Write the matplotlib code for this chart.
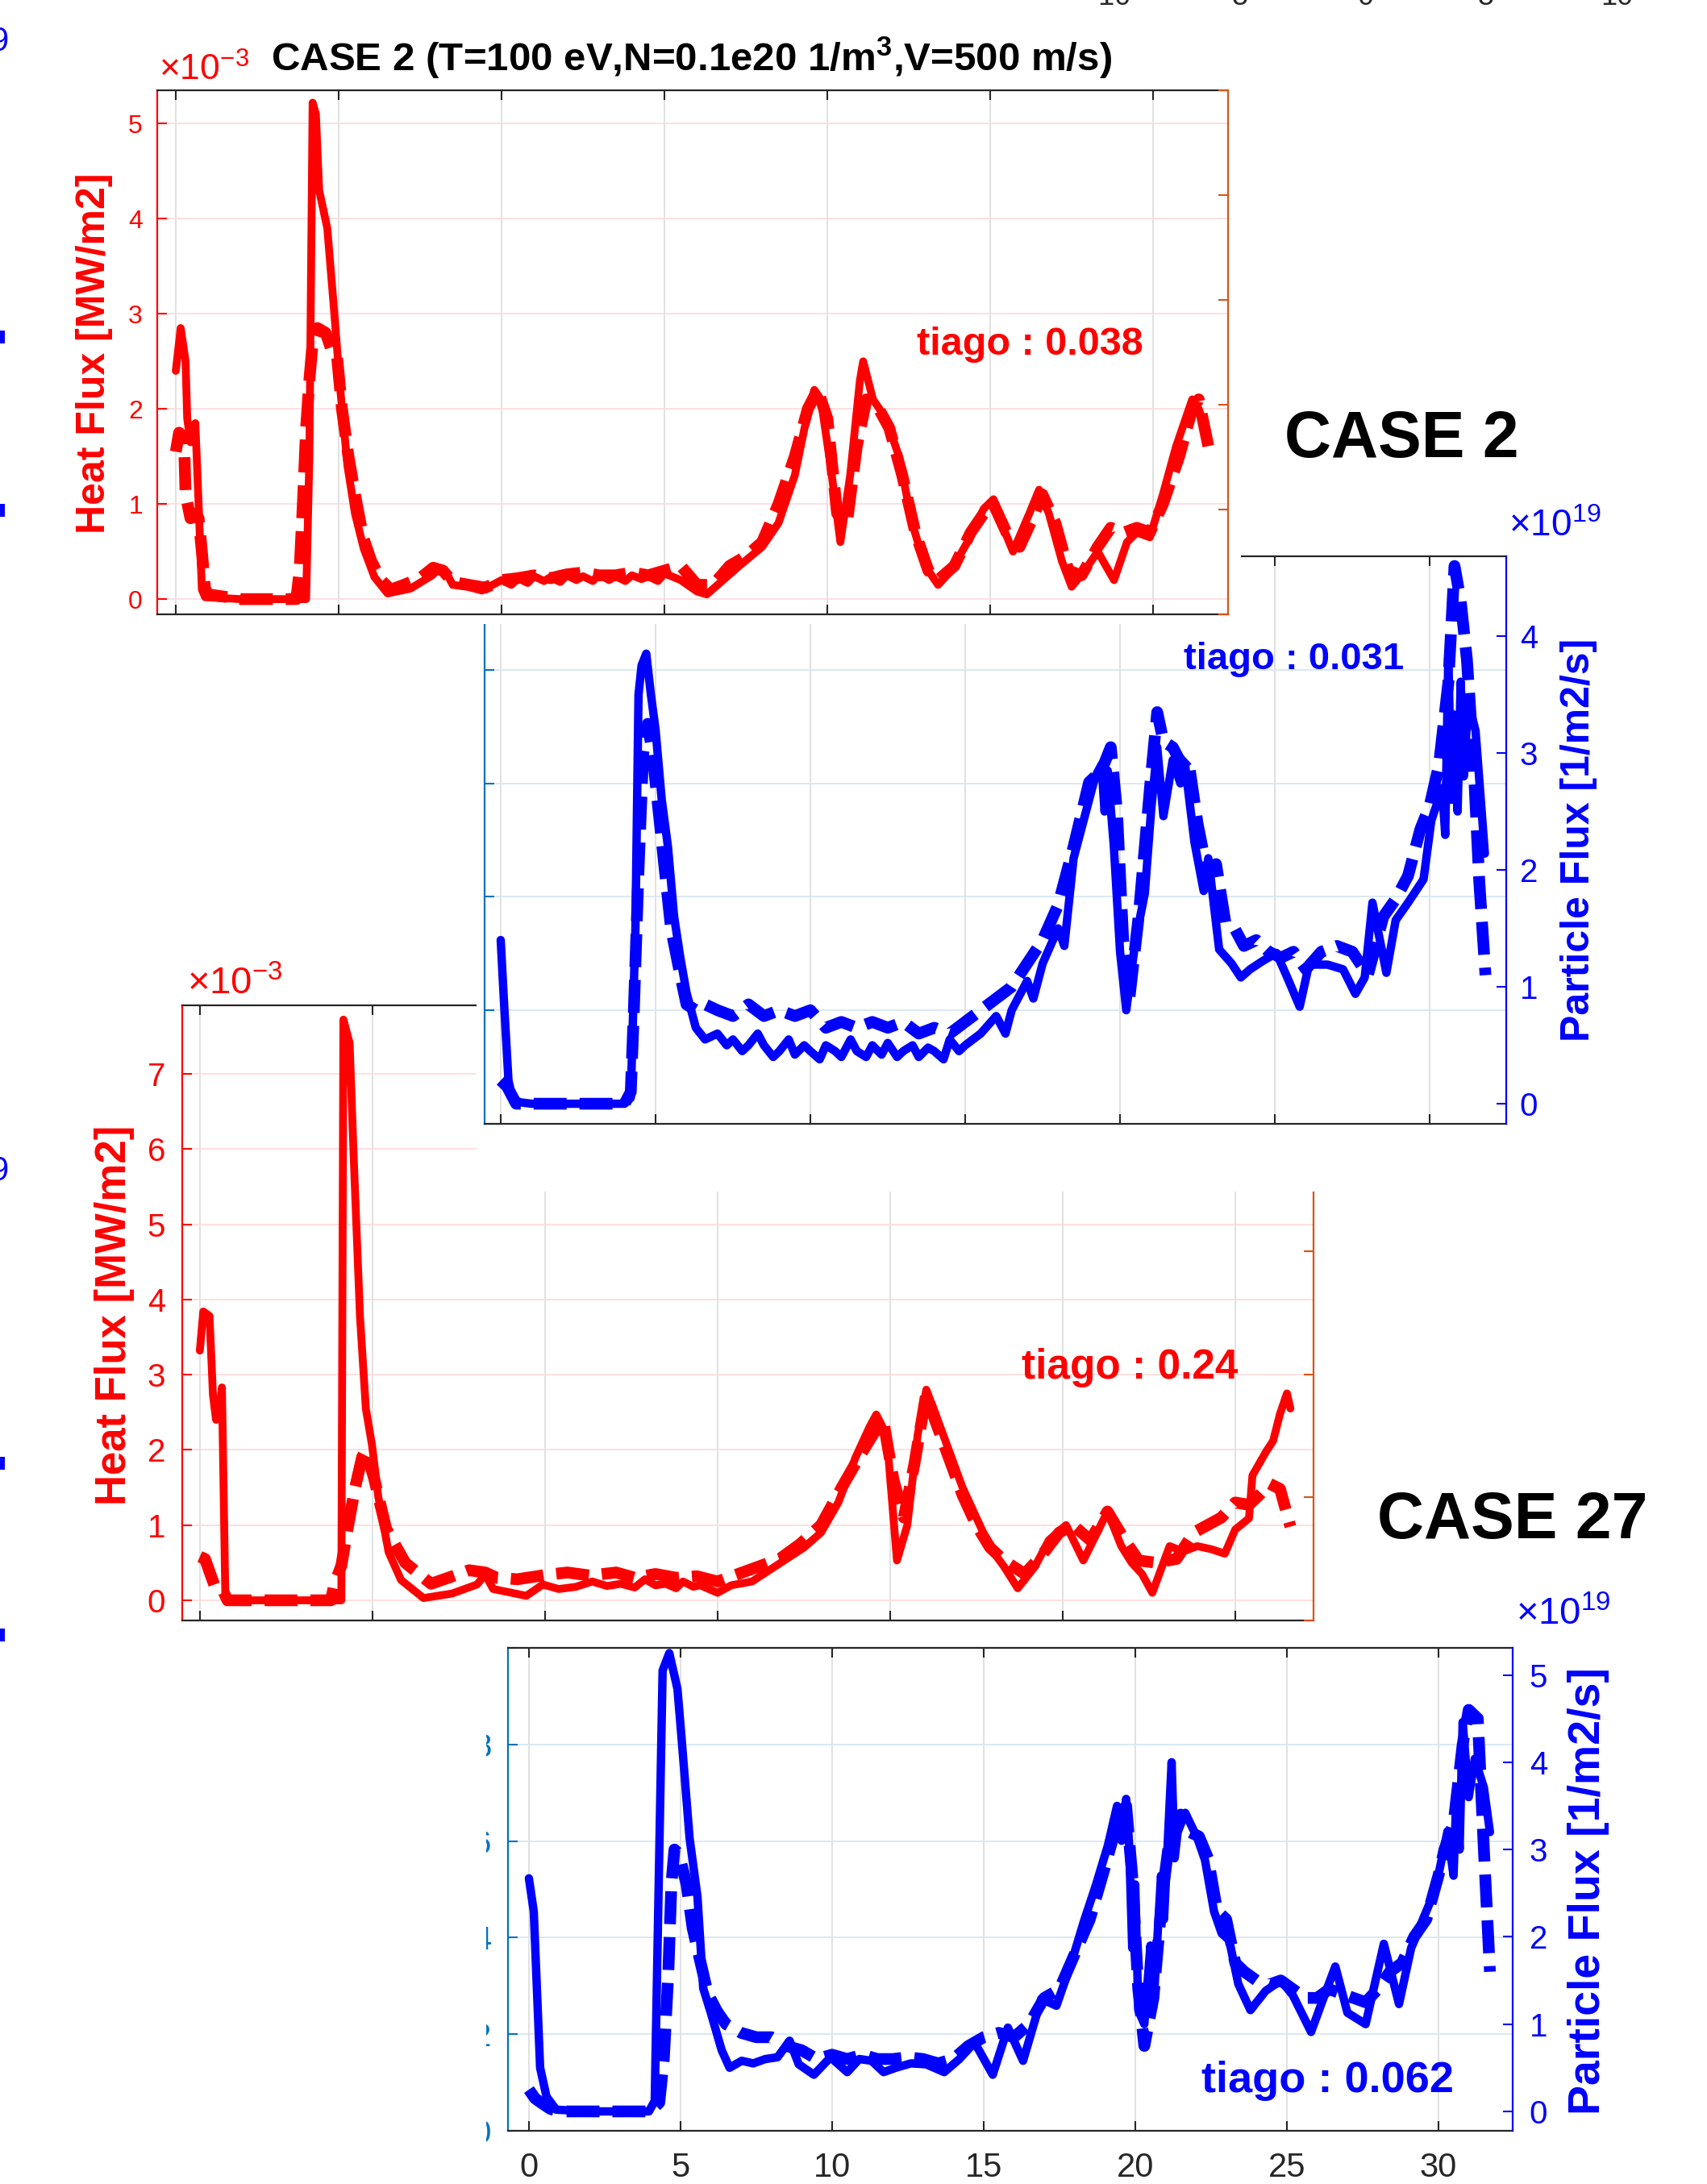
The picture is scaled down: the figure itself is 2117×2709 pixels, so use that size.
import numpy as np
import matplotlib
matplotlib.use("Agg")
import matplotlib.pyplot as plt
from matplotlib.patches import Rectangle

plt.rcParams['font.family'] = ['Liberation Sans', 'DejaVu Sans']
plt.rcParams['mathtext.fontset'] = 'custom'
plt.rcParams['mathtext.rm'] = 'Liberation Sans'
plt.rcParams['mathtext.bf'] = 'Liberation Sans:bold'
plt.rcParams['mathtext.it'] = 'Liberation Sans:italic'

# ---------------- data ----------------
xticks = [0, 5, 10, 15, 20, 25, 30]

# CASE 2 heat flux (x1e-3 MW/m2)
q2_solid_t = [0.0, 0.15, 0.3, 0.35, 0.45, 0.6, 0.7, 0.8, 0.9, 2.0, 3.0, 4.0, 4.1, 4.2, 4.3, 4.4,
              4.65, 4.85, 5.05, 5.27, 5.5, 5.77, 6.1, 6.5, 7.2, 7.87, 8.1, 8.3, 8.5, 8.95, 9.4, 10.0,
              10.3, 10.5, 10.8, 11.0, 11.3, 11.5, 11.8, 12.0, 12.3, 12.5, 12.8, 13.0, 13.3, 13.5,
              13.8, 14.0, 14.3, 14.5, 14.8, 15.0, 15.5, 16.0, 16.3, 16.8,
              17.3, 18.0, 18.5, 19.0, 19.3, 19.6, 19.8, 20.1, 20.4, 20.7, 21.0, 21.1, 21.4, 21.8,
              22.2, 22.6, 23.0, 23.4, 23.8, 24.3, 24.8, 25.1, 25.4, 25.7, 26.2, 26.5, 26.8, 27.2,
              27.5, 27.9, 28.3, 28.8, 29.2, 29.5, 29.9, 30.3, 30.7, 31.0, 31.2, 31.4, 31.6]
q2_solid = [2.4, 2.85, 2.5, 1.9, 1.65, 1.85, 1.0, 0.1, 0.02, 0.0, 0.0, 0.0, 1.5, 5.22, 5.1, 4.3,
            3.9, 3.07, 2.2, 1.4, 0.9, 0.53, 0.23, 0.06, 0.11, 0.25, 0.33, 0.28, 0.15, 0.13, 0.09, 0.2,
            0.15, 0.22, 0.17, 0.24, 0.19, 0.23, 0.18, 0.25, 0.2, 0.24, 0.19, 0.26, 0.2, 0.24,
            0.19, 0.25, 0.21, 0.24, 0.19, 0.27, 0.2, 0.08, 0.05, 0.2,
            0.35, 0.55, 0.8, 1.3, 1.8, 2.2, 2.1, 1.4, 0.6, 1.3, 2.3, 2.5, 2.1, 1.9,
            1.5, 0.8, 0.35, 0.15, 0.3, 0.6, 0.95, 1.05, 0.75, 0.5, 0.9, 1.15, 0.9, 0.4,
            0.13, 0.3, 0.5, 0.2, 0.6, 0.7, 0.65, 1.1, 1.6, 1.9, 2.1, 2.0, 1.8]
q2_dash_t = [0.0, 0.1, 0.25, 0.3, 0.45, 0.55, 0.7, 0.8, 0.9, 1.0, 2.0, 3.0, 3.7, 3.8, 3.9, 4.0,
             4.1, 4.2, 4.35, 4.6, 4.8, 4.95, 5.1, 5.3, 5.5, 5.75, 6.0, 6.3, 6.6, 7.0, 7.5, 7.9,
             8.2, 8.5, 9.0, 9.5, 10.0, 10.5, 11.0, 11.5, 12.0, 12.5, 13.0, 13.5, 14.0, 14.5,
             15.0, 15.5, 16.0, 16.5, 17.0, 17.5, 18.0, 18.5, 19.0, 19.4, 19.7, 20.0, 20.3, 20.6,
             20.9, 21.2, 21.5, 21.9, 22.3, 22.7, 23.1, 23.4, 23.9, 24.4, 24.8, 25.1, 25.5, 25.9,
             26.3, 26.6, 27.0, 27.4, 27.8, 28.3, 28.7, 29.1, 29.5, 29.9, 30.3, 30.8, 31.2, 31.4, 31.7]
q2_dash = [1.55, 1.75, 1.7, 1.1, 0.85, 0.9, 0.85, 0.5, 0.1, 0.05, 0.0, 0.0, 0.0, 0.3, 1.0, 1.8,
           2.3, 2.7, 2.85, 2.8, 2.6, 2.55, 2.0, 1.5, 1.1, 0.65, 0.4, 0.2, 0.1, 0.15, 0.22, 0.33,
           0.3, 0.18, 0.15, 0.12, 0.2, 0.22, 0.25, 0.22, 0.26, 0.28, 0.25, 0.25, 0.28, 0.25,
           0.3, 0.35, 0.15, 0.15, 0.35, 0.45, 0.6, 1.0, 1.5, 2.0, 2.2, 1.9, 0.9, 0.8,
           1.6, 2.1, 2.05, 1.8, 1.3, 0.7, 0.3, 0.2, 0.35, 0.7, 0.9, 1.0, 0.7, 0.55,
           0.85, 1.1, 0.8, 0.3, 0.25, 0.55, 0.75, 0.7, 0.75, 0.7, 1.0, 1.5, 2.0, 2.1, 1.6]

# CASE 2 particle flux (x1e19 1/m2/s)
g2_solid_t = [0.0, 0.1, 0.25, 0.4, 1.0, 2.0, 3.0, 4.0, 4.2, 4.35, 4.45, 4.55, 4.7, 4.85, 5.0, 5.2,
              5.4, 5.6, 5.8, 6.0, 6.3, 6.6, 7.0, 7.3, 7.5, 7.8, 8.0, 8.3, 8.5, 8.8, 9.0, 9.3, 9.5,
              9.8, 10.0, 10.3, 10.5, 10.8, 11.0, 11.3, 11.5, 11.8, 12.0, 12.3, 12.5, 12.8, 13.0,
              13.3, 13.5, 13.8, 14.0, 14.3, 14.5, 14.8, 15.0, 15.5, 16.0, 16.3, 16.5, 17.0, 17.2,
              17.5, 18.0, 18.2, 18.5, 19.0, 19.2, 19.4, 19.5, 19.6, 19.8, 20.0, 20.2, 20.5, 20.8,
              21.0, 21.2, 21.4, 21.7, 21.95, 22.1, 22.4, 22.7, 22.85, 23.2, 23.6, 23.9, 24.2, 24.6,
              25.05, 25.4, 25.8, 26.1, 26.7, 27.2, 27.6, 27.9, 28.15, 28.6, 28.9, 29.3, 29.8,
              30.05, 30.4, 30.5, 30.6, 30.7, 30.77, 30.9, 31.0, 31.1, 31.24, 31.48, 31.78]
g2_solid = [1.4, 0.9, 0.2, 0.02, 0.0, 0.0, 0.0, 0.0, 0.05, 1.5, 3.5, 3.75, 3.85, 3.5, 3.2, 2.6,
            2.2, 1.6, 1.25, 0.95, 0.65, 0.55, 0.6, 0.5, 0.55, 0.45, 0.5, 0.6, 0.5, 0.4, 0.45,
            0.55, 0.42, 0.5, 0.45, 0.38, 0.5, 0.45, 0.4, 0.55, 0.45, 0.4, 0.5, 0.42, 0.52, 0.4,
            0.45, 0.5, 0.4, 0.48, 0.45, 0.38, 0.55, 0.45, 0.5, 0.6, 0.75, 0.6, 0.8, 1.05, 0.9,
            1.2, 1.5, 1.35, 2.1, 2.6, 2.8, 2.9, 2.5, 2.85, 2.2, 1.3, 0.8, 1.4, 1.8,
            2.5, 3.05, 2.46, 2.94, 2.74, 2.9, 2.24, 1.82, 2.1, 1.32, 1.2, 1.08, 1.15, 1.22,
            1.29, 1.08, 0.83, 1.19, 1.19, 1.15, 0.94, 1.08, 1.72, 1.12, 1.57, 1.72, 1.92,
            2.42, 2.7, 2.3, 3.83, 2.6, 3.33, 2.5, 3.61, 2.8, 3.44, 3.19, 2.14]
g2_dash_t = [0.0, 0.2, 0.3, 0.5, 1.0, 2.0, 3.0, 4.0, 4.2, 4.3, 4.45, 4.6, 4.75, 4.9, 5.1, 5.3,
             5.5, 5.8, 6.0, 6.3, 6.6, 7.0, 7.5, 8.0, 8.5, 9.0, 9.5, 10.0, 10.5, 11.0, 11.5, 12.0,
             12.5, 13.0, 13.5, 14.0, 14.5, 15.0, 15.5, 16.0, 16.5, 17.0, 17.5, 18.0, 18.5, 19.0,
             19.4, 19.7, 19.9, 20.1, 20.3, 20.6, 21.0, 21.2, 21.4, 21.7, 22.0, 22.2, 22.5, 22.8,
             23.1, 23.4, 23.7, 24.0, 24.4, 24.8, 25.2, 25.6, 26.0, 26.5, 27.0, 27.5, 28.0, 28.5,
             28.9, 29.3, 29.7, 30.0, 30.3, 30.6, 30.8, 31.0, 31.2, 31.4, 31.6, 31.8]
g2_dash = [0.2, 0.15, 0.1, 0.0, 0.0, 0.0, 0.0, 0.0, 0.1, 0.8, 2.0, 3.0, 3.25, 3.0, 2.5, 2.0,
           1.5, 1.1, 0.85, 0.8, 0.85, 0.8, 0.75, 0.85, 0.75, 0.8, 0.75, 0.8, 0.65, 0.7, 0.65, 0.7,
           0.65, 0.7, 0.6, 0.65, 0.6, 0.7, 0.8, 0.9, 1.0, 1.2, 1.4, 1.7, 2.2, 2.75,
           2.85, 3.05, 2.5, 1.4, 0.9, 1.6, 2.8, 3.35, 3.1, 3.05, 2.9, 2.95, 2.4, 2.0,
           2.05, 1.55, 1.5, 1.35, 1.4, 1.3, 1.25, 1.3, 1.15, 1.3, 1.35, 1.3, 1.1, 1.6,
           1.75, 1.95, 2.35, 2.55, 2.9, 3.6, 4.6, 4.3, 3.8, 3.0, 1.9, 1.1]

# CASE 27 heat flux (x1e-3 MW/m2)
q27_solid_t = [0.0, 0.1, 0.28, 0.38, 0.47, 0.55, 0.64, 0.74, 1.5, 2.5, 3.5, 4.1, 4.16, 4.34, 4.46,
               4.64, 4.81, 4.99, 5.17, 5.47, 5.83, 6.48, 7.31, 8.03, 8.27, 8.5, 9.46, 9.94, 10.4,
               10.9, 11.37, 11.8, 12.2, 12.6, 12.9, 13.2, 13.5, 13.8, 14.0, 14.3, 14.5, 15.0, 15.4,
               16.0, 16.5, 17.0, 17.5, 18.0, 18.5,
               19.0, 19.4, 19.6, 19.9, 20.2, 20.5, 20.8, 21.05, 21.3, 21.7, 22.1, 22.5, 22.9, 23.3,
               23.7, 24.2, 24.6, 25.1, 25.6, 26.0, 26.3, 26.7, 27.0, 27.3, 27.6, 28.1, 28.5, 28.9,
               29.3, 29.7, 30.0, 30.4, 30.5, 30.9, 31.1, 31.3, 31.5, 31.6]
q27_solid = [3.32, 3.84, 3.78, 2.73, 2.4, 2.45, 2.83, 0.03, 0.0, 0.0, 0.0, 0.0, 7.72, 7.41, 5.87,
             3.78, 2.55, 2.06, 1.38, 0.64, 0.27, 0.03, 0.09, 0.21, 0.34, 0.15, 0.06, 0.21, 0.15,
             0.18, 0.25, 0.19, 0.22, 0.17, 0.28, 0.2, 0.22, 0.16, 0.25, 0.18, 0.2, 0.1, 0.2,
             0.25, 0.4, 0.55, 0.7, 0.9, 1.3,
             1.9, 2.3, 2.47, 2.2, 0.53, 1.0, 2.2, 2.8, 2.5, 2.0, 1.5, 1.1, 0.7, 0.45,
             0.16, 0.45, 0.8, 1.0, 0.53, 0.9, 1.18, 0.72, 0.5, 0.35, 0.1, 0.72, 0.65, 0.72,
             0.68, 0.62, 0.94, 1.09, 1.66, 1.98, 2.12, 2.48, 2.75, 2.55]
q27_dash_t = [0.0, 0.15, 0.32, 0.44, 0.68, 0.8, 1.5, 2.5, 3.8, 3.9, 4.1, 4.3, 4.5, 4.7, 4.81, 5.05,
              5.4, 5.95, 6.7, 7.2, 7.8, 8.27, 8.6, 9.2, 10.06, 10.65, 11.3, 12.06, 12.6, 13.2, 13.8,
              14.4, 15.0, 15.6, 16.2, 16.8, 17.4, 18.0, 18.6, 19.1, 19.5, 19.8, 20.1, 20.4, 20.7,
              21.05, 21.3, 21.7, 22.1, 22.5, 22.9, 23.3, 23.9, 24.4, 24.9, 25.3, 25.8, 26.3, 26.8,
              27.2, 27.7, 28.3, 28.8, 29.2, 29.6, 30.0, 30.4, 30.7, 31.0, 31.3, 31.6]
q27_dash = [0.58, 0.55, 0.33, 0.18, 0.12, 0.0, 0.0, 0.0, 0.0, 0.22, 0.46, 1.0, 1.5, 1.9, 2.0, 1.62,
            0.95, 0.5, 0.22, 0.3, 0.4, 0.37, 0.3, 0.28, 0.34, 0.37, 0.33, 0.37, 0.3, 0.35, 0.3,
            0.32, 0.25, 0.35, 0.45, 0.55, 0.75, 1.0, 1.5, 1.9, 2.2, 2.4, 1.6, 1.1, 1.8,
            2.75, 2.4, 1.9, 1.4, 1.0, 0.7, 0.53, 0.35, 0.6, 0.9, 1.0, 0.8, 1.18, 0.8,
            0.53, 0.5, 0.55, 0.9, 1.0, 1.1, 1.3, 1.27, 1.4, 1.55, 1.48, 0.98]

# CASE 27 particle flux (x1e19 1/m2/s)
g27_solid_t = [0.0, 0.16, 0.37, 0.58, 0.9, 2.0, 3.0, 3.96, 4.15, 4.41, 4.63, 4.9, 5.03, 5.3, 5.56,
               5.75, 6.0, 6.36, 6.62, 7.02, 7.4, 7.8, 8.2, 8.6, 8.9, 9.4, 9.95, 10.5, 10.9, 11.3,
               11.7, 12.1, 12.6, 13.1, 13.7, 14.2, 14.7, 15.3, 15.8, 16.3, 16.9, 17.4, 17.9, 18.3,
               18.7, 19.1, 19.4, 19.55, 19.7, 19.8, 19.9, 20.0, 20.1, 20.3, 20.5, 20.6, 20.85,
               20.95, 21.2, 21.3, 21.4, 21.65,
               22.05, 22.3, 22.6, 22.85, 23.1, 23.4, 23.8, 24.3, 24.8, 25.2, 25.8, 26.2, 26.6,
               27.0, 27.6, 28.2, 28.7, 29.1, 29.5, 29.9, 30.3, 30.5, 30.6, 30.7, 30.8, 31.0, 31.2,
               31.5, 31.7]
g27_solid = [2.67, 2.29, 0.5, 0.17, 0.02, 0.0, 0.0, 0.0, 0.12, 5.05, 5.25, 4.84, 4.3, 3.13, 2.46,
             1.41, 1.13, 0.7, 0.5, 0.58, 0.55, 0.6, 0.62, 0.81, 0.54, 0.42, 0.62, 0.45, 0.6, 0.58,
             0.45, 0.5, 0.55, 0.54, 0.45, 0.6, 0.79, 0.42, 0.96, 0.58, 1.29, 1.21, 1.71, 2.17,
             2.59, 3.05, 3.5, 3.1, 3.58, 3.05, 1.87, 2.6, 1.16, 1.0, 1.9, 1.2, 2.7,
             2.2, 4.0, 2.9, 3.2, 3.42,
             3.13, 2.88, 2.29, 2.04, 1.96, 1.46, 1.16, 1.38, 1.5, 1.33, 0.91, 1.29, 1.66,
             1.13, 1.0, 1.92, 1.23, 1.87, 2.21, 2.54, 3.21, 2.7, 3.71, 3.0, 4.46, 3.6, 4.04,
             3.71, 3.2]
g27_dash_t = [0.0, 0.2, 0.4, 0.7, 1.0, 2.0, 3.0, 4.0, 4.3, 4.45, 4.6, 4.7, 4.8, 4.95, 5.2, 5.4,
              5.6, 5.9, 6.2, 6.5, 7.0, 7.5, 8.0, 8.5, 9.0, 9.5, 10.0, 10.5, 11.0, 11.5, 12.0,
              12.5, 13.0, 13.5, 14.0, 14.5, 15.0, 15.5, 16.0, 16.5, 17.0, 17.5, 18.0, 18.5, 19.0,
              19.4, 19.7, 19.9, 20.1, 20.3, 20.6, 20.9, 21.2, 21.5, 21.8, 22.1, 22.4, 22.7, 23.0,
              23.3, 23.6, 24.0, 24.4, 24.8, 25.2, 25.6, 26.0, 26.4, 26.8, 27.2, 27.6, 28.0, 28.4,
              28.8, 29.2, 29.6, 30.0, 30.2, 30.5, 30.8, 31.0, 31.3, 31.5, 31.7]
g27_dash = [0.25, 0.15, 0.1, 0.03, 0.0, 0.0, 0.0, 0.0, 0.1, 0.6, 1.6, 2.6, 3.0, 2.95, 2.6, 2.1,
            1.8, 1.35, 1.15, 1.0, 0.9, 0.85, 0.85, 0.75, 0.7, 0.6, 0.65, 0.6, 0.65, 0.6, 0.6,
            0.62, 0.6, 0.55, 0.6, 0.75, 0.85, 0.9, 0.85, 1.0, 1.3, 1.4, 1.8, 2.2, 2.8,
            3.3, 3.5, 2.7, 1.4, 0.75, 1.3, 2.5, 3.3, 3.4, 3.2, 3.15, 2.9, 2.3, 2.2,
            1.7, 1.6, 1.5, 1.45, 1.5, 1.4, 1.3, 1.3, 1.4, 1.35, 1.3, 1.25, 1.4, 1.6,
            1.7, 2.0, 2.2, 2.7, 3.0, 3.3, 4.2, 4.6, 4.5, 3.0, 1.6]

# ---------------- styling ----------------
W, H = 2117, 2709
RED = '#ff0000'
BLUE = '#0000ff'
ORANGE = '#d95319'
MBLUE = '#0072bd'
DARK = '#262626'

fig = plt.figure(figsize=(W / 100, H / 100), dpi=100)
fig.patch.set_facecolor('white')


def rect_of(l, t, r, b):
    return [l / W, 1 - b / H, (r - l) / W, (b - t) / H]


def fpos(x, y):
    return x / W, 1 - y / H


def make_panel(l, t, r, b, z, xlim):
    ax = fig.add_axes(rect_of(l, t, r, b))
    ax.set_zorder(z)
    ax.set_facecolor('white')
    tw = ax.twinx()
    tw.set_zorder(z + 0.01)
    tw.patch.set_visible(False)
    ax.set_xlim(*xlim)
    ax.set_xticks(xticks)
    ax.tick_params(axis='x', direction='in', top=True, bottom=True, length=8.5,
                   width=1.5, color=DARK, labelbottom=False)
    ax.grid(True, axis='x', color='#dedede', lw=1.3)
    ax.set_axisbelow(True)
    for s in ax.spines.values():
        s.set_linewidth(1.6)
    ax.spines['top'].set_color(DARK)
    ax.spines['bottom'].set_color(DARK)
    ax.spines['right'].set_visible(False)
    for s in ('left', 'top', 'bottom'):
        tw.spines[s].set_visible(False)
    tw.spines['right'].set_linewidth(1.6)
    return ax, tw


def white_box(l, t, r, b, z):
    fig.add_artist(Rectangle(fpos(l, b), (r - l) / W, (b - t) / H, transform=fig.transFigure,
                             facecolor='white', edgecolor='none', zorder=z))


def curves(ax, ts, vs, td, vd, color, lws, lwd):
    ax.plot(ts, vs, color=color, lw=lws, solid_joinstyle='round', solid_capstyle='round')
    ax.plot(td, vd, color=color, lw=lwd, ls=(0, (2.8, 1.1)), dash_capstyle='butt')


def ftext(ax, x, y, s, **kw):
    xf, yf = fpos(x, y)
    ax.text(xf, yf, s, transform=fig.transFigure, **kw)


# ---------- background fragments ----------
for lab, xc in zip(['-10', '-5', '0', '5', '10'], [1377, 1532, 1694, 1843, 2005]):
    fig.text(*fpos(xc, 14), lab, ha='center', va='bottom', fontsize=26, color=DARK, zorder=0.5)
fig.text(*fpos(0, 52), '9', ha='center', va='center', fontsize=30, color=BLUE, zorder=0.5)
fig.text(*fpos(0, 1453), '9', ha='center', va='center', fontsize=30, color=BLUE, zorder=0.5)
for yy in [410, 625, 1807, 2020]:
    fig.add_artist(Rectangle(fpos(0, yy + 16), 6 / W, 16 / H, transform=fig.transFigure,
                             facecolor=BLUE, edgecolor='none', zorder=5))

# ---------- panel 4 : CASE 27 particle flux ----------
ax4, tw4 = make_panel(630, 2044, 1876, 2643, 1, (-0.69, 32.45))
ax4.set_ylim(0, 10)
ax4.set_yticks([0, 2, 4, 6, 8, 10])
ax4.set_yticklabels(['0', '2', '4', '6', '8', ''])
ax4.tick_params(axis='y', direction='in', colors=MBLUE, labelsize=29, length=8.5, width=1.5, pad=15)
ax4.grid(True, axis='y', color='#d6e7f3', lw=1.3)
ax4.spines['left'].set_color(MBLUE)
ax4.tick_params(axis='x', labelbottom=True, labelsize=30, labelcolor=DARK, pad=19)
tw4.set_ylim(-0.222, 5.31)
tw4.set_yticks([0, 1, 2, 3, 4, 5])
tw4.tick_params(axis='y', direction='in', colors=BLUE, labelsize=29, length=8.5, width=1.5, pad=15)
tw4.spines['right'].set_color(BLUE)
curves(tw4, g27_solid_t, g27_solid, g27_dash_t, g27_dash, BLUE, 7.5, 10.5)
ftext(ax4, 1880, 2015, r'$\mathregular{×10^{19}}$', color=BLUE, fontsize=34, ha='left', va='baseline')
ftext(ax4, 1970, 2346, 'Particle Flux [1/m2/s]', color=BLUE, fontsize=40, fontweight='bold',
      rotation=90, ha='center', va='center', rotation_mode='anchor')
ftext(ax4, 1803, 2595, 'tiago : 0.062', color=BLUE, fontsize=39, fontweight='bold',
      ha='right', va='baseline')
white_box(0, 2030, 603, H, 1.5)

# ---------- panel 3 : CASE 27 heat flux ----------
ax3, tw3 = make_panel(226, 1247, 1629, 2010, 2, (-0.51, 32.27))
ax3.set_ylim(-0.268, 7.91)
ax3.set_yticks(range(8))
ax3.tick_params(axis='y', direction='in', colors=RED, labelsize=29, length=8.5, width=1.5, pad=15)
ax3.grid(True, axis='y', color='#ffdcdc', lw=1.3)
ax3.spines['left'].set_color(RED)
tw3.set_ylim(0, 1)
tw3.set_yticks(np.linspace(0, 1, 6))
tw3.tick_params(axis='y', direction='in', colors=ORANGE, labelright=False, length=8.5, width=1.5)
tw3.spines['right'].set_color(ORANGE)
curves(ax3, q27_solid_t, q27_solid, q27_dash_t, q27_dash, RED, 7, 10.5)
ftext(ax3, 232, 1233, r'$\mathregular{×10^{-3}}$', color=RED, fontsize=34, ha='left', va='baseline')
ftext(ax3, 142, 1631, 'Heat Flux [MW/m2]', color=RED, fontsize=38, fontweight='bold',
      rotation=90, ha='center', va='center', rotation_mode='anchor')
ftext(ax3, 1535, 1710, 'tiago : 0.24', color=RED, fontsize=37, fontweight='bold',
      ha='right', va='baseline')
ftext(ax3, 1708, 1908, 'CASE 27', color='black', fontsize=58, fontweight='bold',
      ha='left', va='baseline')
white_box(591, 630, W, 1478, 2.5)

# ---------- panel 2 : CASE 2 particle flux ----------
ax2, tw2 = make_panel(601, 690, 1868, 1394, 3, (-0.52, 32.47))
ax2.set_ylim(0, 5)
ax2.set_yticks(range(6))
ax2.tick_params(axis='y', direction='in', colors=MBLUE, labelleft=False, length=8.5, width=1.5)
ax2.grid(True, axis='y', color='#d6e7f3', lw=1.3)
ax2.spines['left'].set_color(MBLUE)
tw2.set_ylim(-0.172, 4.683)
tw2.set_yticks([0, 1, 2, 3, 4])
tw2.tick_params(axis='y', direction='in', colors=BLUE, labelsize=29, length=8.5, width=1.5, pad=12)
tw2.spines['right'].set_color(BLUE)
curves(tw2, g2_solid_t, g2_solid, g2_dash_t, g2_dash, BLUE, 7.5, 10.5)
ftext(ax2, 1871, 665, r'$\mathregular{×10^{19}}$', color=BLUE, fontsize=33, ha='left', va='baseline')
ftext(ax2, 1958, 1042, 'Particle Flux [1/m2/s]', color=BLUE, fontsize=36, fontweight='bold',
      rotation=90, ha='center', va='center', rotation_mode='anchor')
ftext(ax2, 1468, 830, 'tiago : 0.031', color=BLUE, fontsize=34, fontweight='bold',
      ha='left', va='baseline')
white_box(60, 20, 1539, 774, 3.5)

# ---------- panel 1 : CASE 2 heat flux ----------
ax1, tw1 = make_panel(195, 112, 1523, 762, 4, (-0.57, 32.3))
ax1.set_ylim(-0.16, 5.35)
ax1.set_yticks(range(6))
ax1.tick_params(axis='y', direction='in', colors=RED, labelsize=23, length=8.5, width=1.5, pad=13)
ax1.grid(True, axis='y', color='#ffdcdc', lw=1.3)
ax1.spines['left'].set_color(RED)
tw1.set_ylim(0, 1)
tw1.set_yticks(np.linspace(0, 1, 6))
tw1.tick_params(axis='y', direction='in', colors=ORANGE, labelright=False, length=8.5, width=1.5)
tw1.spines['right'].set_color(ORANGE)
curves(ax1, q2_solid_t, q2_solid, q2_dash_t, q2_dash, RED, 7, 10.5)
ftext(ax1, 197, 100, r'$\mathregular{×10^{-3}}$', color=RED, fontsize=32, ha='left', va='baseline')
ftext(ax1, 336, 88, r'CASE 2 (T=100 eV,N=0.1e20 1/m$^{\mathbf{3}}$,V=500 m/s)', color='black',
      fontsize=35.5, fontweight='bold', ha='left', va='baseline')
ftext(ax1, 117, 438, 'Heat Flux [MW/m2]', color=RED, fontsize=36, fontweight='bold',
      rotation=90, ha='center', va='center', rotation_mode='anchor')
ftext(ax1, 1277, 440, 'tiago : 0.038', color=RED, fontsize=35, fontweight='bold',
      ha='center', va='baseline')

fig.text(*fpos(1593, 567), 'CASE 2', color='black', fontsize=58, fontweight='bold',
         ha='left', va='baseline', zorder=10)

fig.savefig('out.png', dpi=100, facecolor='white')
